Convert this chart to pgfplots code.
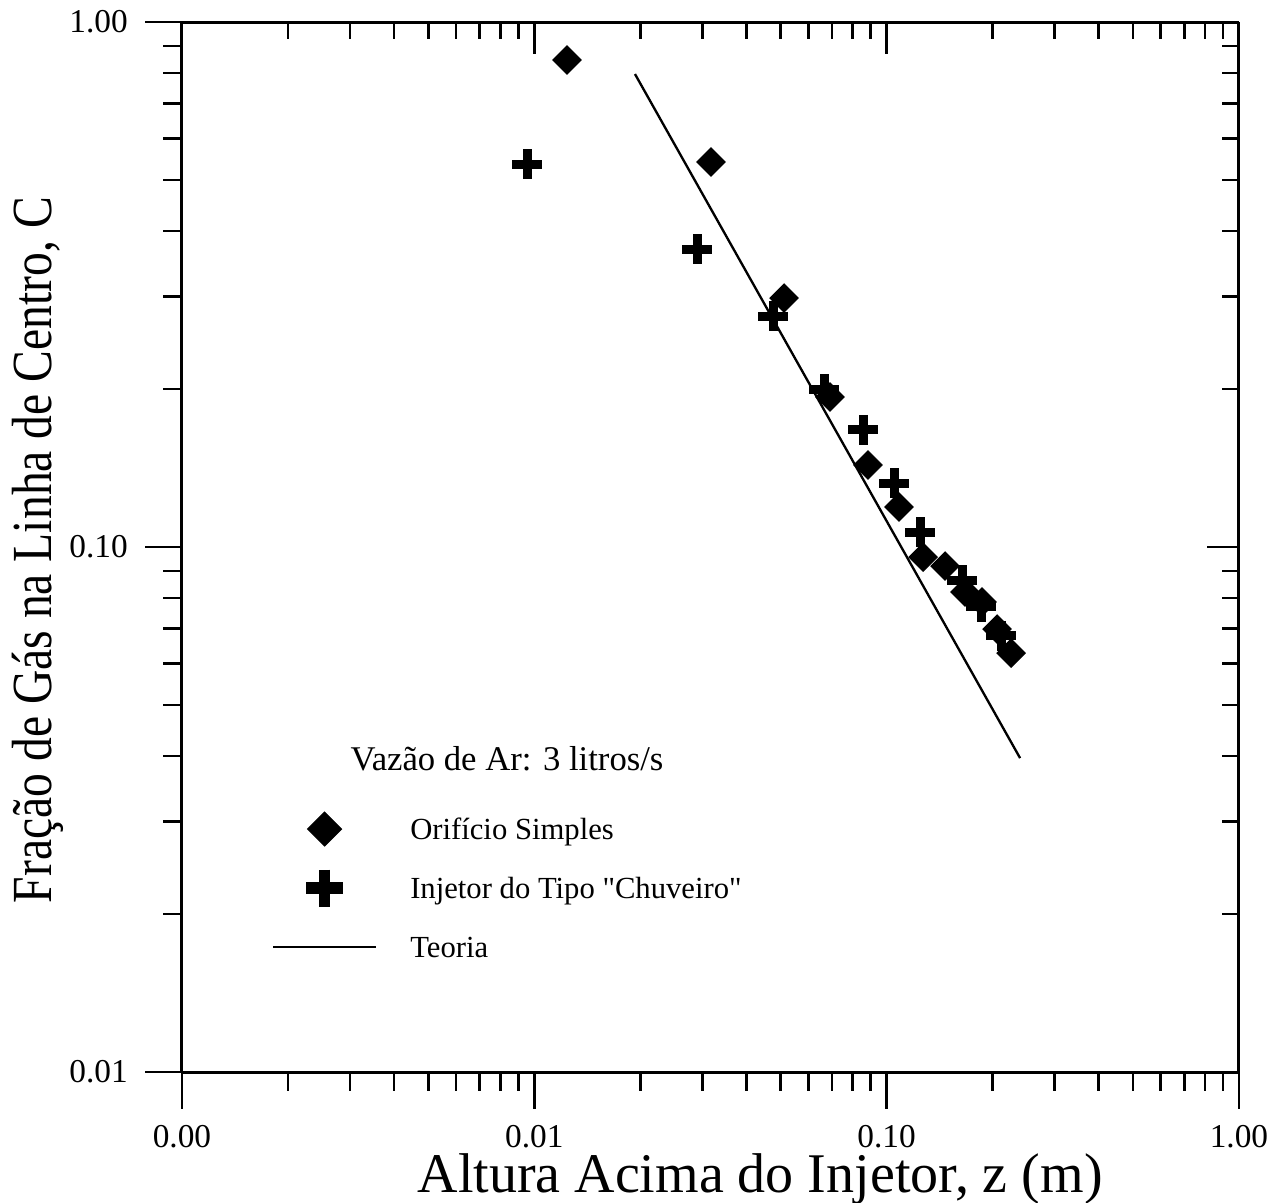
\documentclass[border=0pt]{standalone}
\usepackage{fontspec}
\setmainfont{Liberation Serif}
\usepackage{graphicx}
\usepackage{pgfplots}
\pgfplotsset{compat=1.18}

\begin{document}
\begin{tikzpicture}

% main axis: bottom and left lines, outward ticks, labels and data
\begin{axis}[name=main,
  xmode=log, ymode=log,
  scale only axis,
  width=317.1pt, height=315pt,
  xmin=0.001, xmax=1, ymin=0.01, ymax=1,
  xtick={0.001,0.01,0.1,1},
  ytick={0.01,0.1,1},
  minor xtick={0.002,0.003,0.004,0.005,0.006,0.007,0.008,0.009,
               0.02,0.03,0.04,0.05,0.06,0.07,0.08,0.09,
               0.2,0.3,0.4,0.5,0.6,0.7,0.8,0.9},
  minor ytick={0.02,0.03,0.04,0.05,0.06,0.07,0.08,0.09,
               0.2,0.3,0.4,0.5,0.6,0.7,0.8,0.9},
  axis line style={line width=0.9pt, black},
  every tick/.style={black, line width=0.8pt},
  clip=false,
  axis x line*=bottom, axis y line*=left,
  tick align=outside,
  major tick length=11pt, minor tick length=5.7pt,
  xticklabels={0.00,0.01,0.10,1.00},
  yticklabels={0.01,0.10,1.00},
  ticklabel style={font=\fontsize{10}{12}\selectfont, inner sep=0pt},
  xticklabel style={yshift=-4.8pt},
  yticklabel style={xshift=-5.1pt},
  xlabel={Altura Acima do Injetor, z (m)},
  ylabel={\scalebox{0.84}[1]{Fração de Gás na Linha de Centro, C}},
  xlabel style={at={(axis description cs:0.547,-0.1150)}, anchor=base,
                inner sep=0pt, font=\fontsize{16.8}{20}\selectfont},
  ylabel style={at={(axis description cs:-0.1230,0.497)}, anchor=base,
                inner sep=0pt, font=\fontsize{17}{20}\selectfont},
  legend style={at={(axis description cs:0.0851,0.2595)}, anchor=north west,
                draw=none, fill=none, inner sep=0pt, outer sep=0pt, row sep=0pt,
                font=\fontsize{9.2}{11}\selectfont,
                nodes={inner sep=0pt, text height=11.85pt, text depth=5.85pt},
                /tikz/every odd column/.append style={column sep=9.9pt}},
  legend cell align=left,
  legend image code/.code={%
    \draw[mark repeat=2,mark phase=2,#1]
      plot coordinates {(0pt,0pt) (15.45pt,0pt) (30.9pt,0pt)};},
]

% theory line
\addplot[black, line width=0.7pt, forget plot]
  coordinates {(0.01931,0.7961) (0.2392,0.03963)};

% single orifice
\addplot[only marks, mark=square*, mark size=3.0pt,
  mark options={rotate=45, fill=black, draw=black, line width=0.3pt}, forget plot]
  coordinates {
  (0.01238,0.8466) (0.03173,0.5412) (0.05115,0.2980) (0.06908,0.1931)
  (0.08857,0.1433) (0.1084,0.1192) (0.1269,0.0957) (0.1465,0.0920)
  (0.1669,0.0821) (0.1866,0.0786) (0.2058,0.0698) (0.2255,0.0628)
  };

% shower-type injector
\addplot[only marks, mark=+, mark size=4.5pt,
  mark options={line width=2.7pt, black}, forget plot]
  coordinates {
  (0.00954,0.5365) (0.02896,0.3694) (0.04759,0.2754) (0.06643,0.1999)
  (0.0857,0.1671) (0.1050,0.1324) (0.1244,0.1068) (0.1637,0.0865)
  (0.1854,0.0769) (0.2112,0.0677)
  };

\addlegendimage{only marks, mark=square*, mark size=3.6pt,
  mark options={rotate=45, fill=black, draw=black, line width=0.3pt}}
\addlegendentry{Orifício Simples}
\addlegendimage{only marks, mark=+, mark size=5.55pt,
  mark options={line width=3.5pt, black}}
\addlegendentry{Injetor do Tipo \textquotedbl Chuveiro\textquotedbl}
\addlegendimage{black, line width=0.7pt}
\addlegendentry{Teoria}

\node[anchor=base, font=\fontsize{10.4}{12}\selectfont]
  at (axis description cs:0.3075,0.2876) {Vazão de Ar: 3 litros/s};
\end{axis}

% mirrored axis: top and right lines with inward ticks
\begin{axis}[
  xmode=log, ymode=log,
  scale only axis,
  width=317.1pt, height=315pt,
  xmin=0.001, xmax=1, ymin=0.01, ymax=1,
  xtick={0.001,0.01,0.1,1},
  ytick={0.01,0.1,1},
  minor xtick={0.002,0.003,0.004,0.005,0.006,0.007,0.008,0.009,
               0.02,0.03,0.04,0.05,0.06,0.07,0.08,0.09,
               0.2,0.3,0.4,0.5,0.6,0.7,0.8,0.9},
  minor ytick={0.02,0.03,0.04,0.05,0.06,0.07,0.08,0.09,
               0.2,0.3,0.4,0.5,0.6,0.7,0.8,0.9},
  axis line style={line width=0.9pt, black},
  every tick/.style={black, line width=0.8pt},
  axis x line*=top, axis y line*=right,
  tick align=inside,
  major tick length=9.7pt, minor tick length=5.1pt,
  xticklabels={}, yticklabels={},
]
\end{axis}

\pgfresetboundingbox
\path (main.south west) ++(-54.6pt,-39pt) coordinate (bbA);
\path (main.north east) ++(11.7pt,6.6pt) coordinate (bbB);
\path (bbA) rectangle (bbB);
\end{tikzpicture}
\end{document}
